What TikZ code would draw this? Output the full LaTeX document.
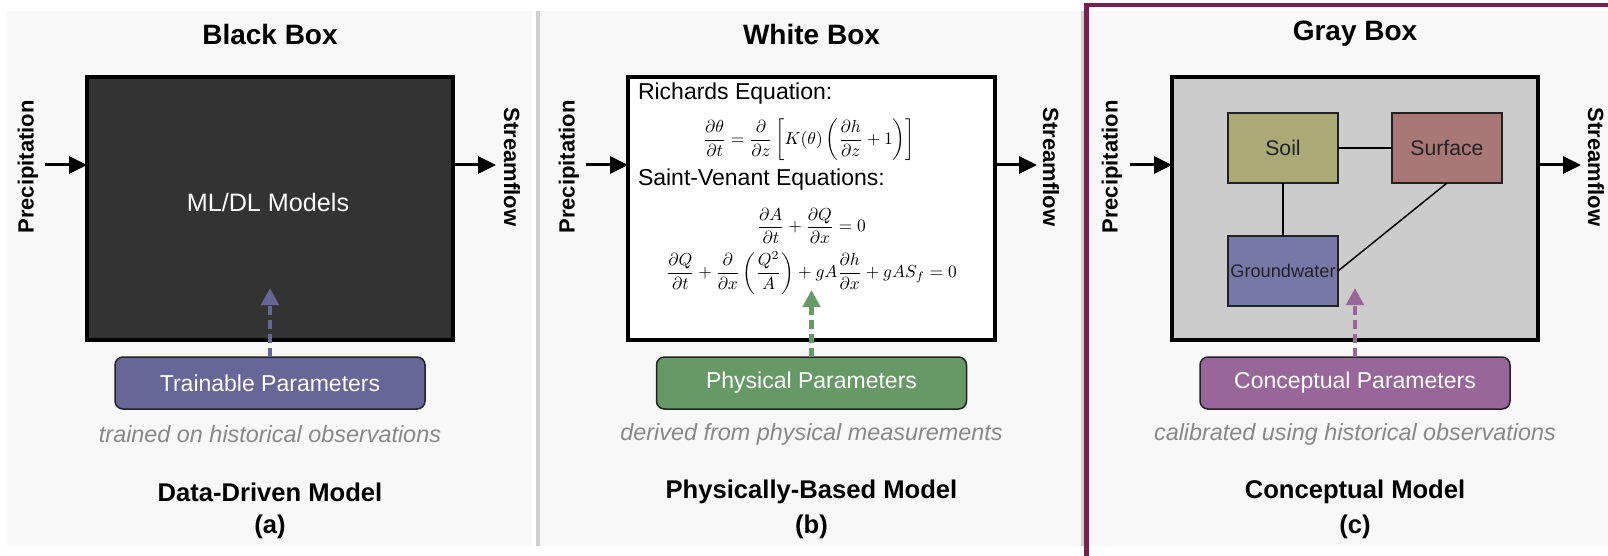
\documentclass[tikz,border=0pt]{standalone}
\usepackage{fontspec}
\newfontfamily\lib{Liberation Sans}
\usetikzlibrary{arrows.meta}
\definecolor{bgc}{HTML}{F8F8F8}
\definecolor{sepc}{HTML}{D0D0D0}
\definecolor{frame}{RGB}{122,30,80}
\definecolor{blackfill}{HTML}{333333}
\definecolor{grayfill}{HTML}{CCCCCC}
\definecolor{darkline}{HTML}{222222}
\definecolor{notegray}{HTML}{888888}
\definecolor{pa}{HTML}{666699}
\definecolor{pb}{HTML}{669966}
\definecolor{pc}{HTML}{996699}
\definecolor{soilc}{HTML}{AAAA77}
\definecolor{surfc}{HTML}{AA7777}
\definecolor{gwc}{HTML}{7777AA}
\begin{document}
\begin{tikzpicture}[x=0.5pt,y=-0.5pt,
  every node/.style={inner sep=0pt, outer sep=0pt},
  titletext/.style={font=\lib\bfseries\fontsize{14}{16}\selectfont},
  sidetext/.style={font=\lib\bfseries\fontsize{11}{13}\selectfont},
  mainbox/.style={draw=black, line width=1.75pt, minimum width=183pt, minimum height=131.5pt},
  parambox/.style={draw=darkline, line width=0.75pt, rounded corners=4pt, minimum width=155pt, minimum height=26pt, text=white, font=\lib\fontsize{11.5}{13}\selectfont},
  notetext/.style={text=notegray, font=\lib\itshape\fontsize{11.7}{13}\selectfont},
  modelname/.style={font=\lib\bfseries\fontsize{12.8}{15}\selectfont},
  eqlabel/.style={anchor=west, font=\lib\fontsize{11.5}{13}\selectfont},
  eqn/.style={font=\fontsize{10}{12}\selectfont, scale=0.87},
  flow/.style={line width=1.5pt, -{Triangle[length=9pt,width=8.5pt]}},
  paramflow/.style={line width=2.25pt, dash pattern=on 4.5pt off 2.5pt, -{Triangle[length=8.5pt,width=8.5pt]}},
  comp/.style={draw=darkline, line width=1pt, minimum width=55pt, minimum height=35pt},
  link/.style={line width=0.75pt, draw=black},
]
\useasboundingbox (0,0) rectangle (1608,556);
% backgrounds
\fill[bgc] (7,11) rectangle (1608,546);
\fill[white] (532,11) rectangle (536,546);
\fill[sepc] (536,11) rectangle (540,546);
\fill[sepc] (1081,11) rectangle (1085,546);
\draw[frame, line width=2.25pt] (1086.5,5) rectangle (1640,600);

% ---------- panel (a)
\node[titletext] (ta) at (270,34) {Black Box};
\node[mainbox, fill=blackfill] (boxa) at (270,208.5) {};
\node[text=white, font=\lib\fontsize{12.6}{15}\selectfont] (mla) at (268,202) {ML/DL Models};
\node[sidetext, rotate=90] (preca) at (28,167) {Precipitation};
\node[sidetext, rotate=-90] (streama) at (512,167) {Streamflow};
\coordinate (ina) at (45,165);
\coordinate (outa) at (496,165);
\draw[flow] (ina) -- (ina -| boxa.west);
\draw[flow] (boxa.east |- outa) -- (outa);
\node[parambox, fill=pa] (para) at (270,383) {Trainable Parameters};
\coordinate (tipa) at (270,288);
\draw[paramflow, pa] (para.north) -- (tipa);
\node[notetext] (nta) at (270,434.5) {trained on historical observations};
\node[modelname] (mna) at (270,492) {Data-Driven Model};
\node[modelname] (la) at (270,527) {(a)};

% ---------- panel (b)
\node[titletext] (tb) at (811.5,34) {White Box};
\node[mainbox, fill=white, minimum width=183.5pt] (boxb) at (811.5,208.5) {};
\node[eqlabel] (rich) at (638,94) {Richards Equation:};
\node[eqn] (eq1) at (809,140) {$\displaystyle \frac{\partial\theta}{\partial t} = \frac{\partial}{\partial z}\left[K(\theta)\left(\frac{\partial h}{\partial z}+1\right)\right]$};
\node[eqlabel] (stv) at (638,180) {Saint-Venant Equations:};
\node[eqn] (eq2) at (811.5,226) {$\displaystyle \frac{\partial A}{\partial t} + \frac{\partial Q}{\partial x} = 0$};
\node[eqn] (eq3) at (811.5,273) {$\displaystyle \frac{\partial Q}{\partial t} + \frac{\partial}{\partial x}\left(\frac{Q^2}{A}\right) + gA\frac{\partial h}{\partial x} + gAS_f = 0$};
\node[sidetext, rotate=90] (precb) at (569,167) {Precipitation};
\node[sidetext, rotate=-90] (streamb) at (1051,167) {Streamflow};
\coordinate (inb) at (586,165);
\coordinate (outb) at (1037,165);
\draw[flow] (inb) -- (inb -| boxb.west);
\draw[flow] (boxb.east |- outb) -- (outb);
\node[parambox, fill=pb] (parb) at (811.5,383) {Physical Parameters};
\coordinate (tipb) at (811.5,290);
\draw[paramflow, pb] (parb.north) -- (tipb);
\node[notetext] (ntb) at (811.5,434.5) {derived from physical measurements};
\node[modelname] (mnb) at (811.5,492) {Physically-Based Model};
\node[modelname] (lb) at (811.5,527) {(b)};

% ---------- panel (c)
\node[titletext] (tc) at (1355,34) {Gray Box};
\node[mainbox, fill=grayfill] (boxc) at (1355,208.5) {};
\node[comp, fill=soilc, font=\lib\fontsize{10.6}{12}\selectfont, text=darkline] (soil) at (1283,148) {Soil};
\node[comp, fill=surfc, font=\lib\fontsize{10.6}{12}\selectfont, text=darkline] (surf) at (1447,148) {Surface};
\node[comp, fill=gwc, font=\lib\fontsize{9.1}{11}\selectfont, text=darkline] (gw) at (1283,271) {Groundwater};
\draw[link] (soil.east) -- (surf.west);
\draw[link] (soil.south) -- (gw.north);
\draw[link] (surf.south) -- (gw.east);
\node[sidetext, rotate=90] (precc) at (1112,167) {Precipitation};
\node[sidetext, rotate=-90] (streamc) at (1596,167) {Streamflow};
\coordinate (inc) at (1130,165);
\coordinate (outc) at (1581,165);
\draw[flow] (inc) -- (inc -| boxc.west);
\draw[flow] (boxc.east |- outc) -- (outc);
\node[parambox, fill=pc] (parc) at (1355,383) {Conceptual Parameters};
\coordinate (tipc) at (1355,288);
\draw[paramflow, pc] (parc.north) -- (tipc);
\node[notetext] (ntc) at (1355,434.5) {calibrated using historical observations};
\node[modelname] (mnc) at (1355,492) {Conceptual Model};
\node[modelname] (lc) at (1355,527) {(c)};
\end{tikzpicture}
\end{document}
